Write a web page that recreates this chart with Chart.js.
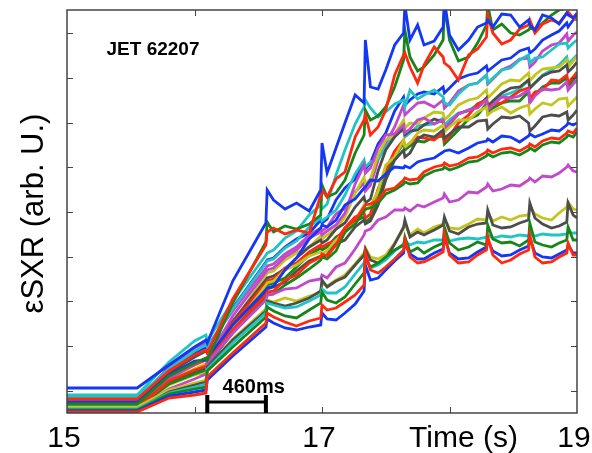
<!DOCTYPE html>
<html lang="en">
<head>
<meta charset="UTF-8">
<title>JET 62207 soft X-ray emissivity</title>
<style>
  html, body { margin: 0; padding: 0; background: #fff; }
  #wrap { width: 592px; height: 453px; }
</style>
</head>
<body>
<div id="wrap"><canvas id="sxr"></canvas></div>

<script src="https://cdn.jsdelivr.net/npm/chart.js"></script>
<script>
// sample times (s), shared by every channel
const times = [15.00, 15.55, 15.80, 16.00, 16.09, 16.10, 16.30, 16.56, 16.57, 16.62,
               16.71, 16.80, 16.90, 16.99, 17.00, 17.04, 17.11, 17.18, 17.26, 17.33,
               17.34, 17.38, 17.44, 17.50, 17.57, 17.64, 17.65, 17.69, 17.75, 17.80,
               17.88, 17.95, 17.96, 18.00, 18.07, 18.15, 18.22, 18.29, 18.30, 18.34,
               18.41, 18.48, 18.55, 18.62, 18.63, 18.67, 18.73, 18.80, 18.86, 18.92,
               18.93, 18.97, 19.00];

// core channels (top of the bundle)
const core1 = [2.5, 2.5, 4.8, 6.6, 7.3, 7.0, 13.2, 19.0, 22.3, 21.3, 20.4, 21.0, 20.2, 22.3, 27.0, 24.0, 26.5, 29.0, 31.8, 31.0, 37.3, 32.6, 32.4, 34.3, 36.8, 38.0, 40.8, 37.3, 38.8, 36.8, 37.2, 38.6, 41.3, 37.8, 36.3, 37.3, 38.6, 39.0, 39.3, 38.6, 39.9, 39.8, 38.6, 39.3, 38.8, 38.3, 39.8, 39.5, 38.9, 40.0, 39.8, 39.5, 40.0];
const core2 = [1.4, 1.4, 4.2, 5.8, 6.3, 6.0, 11.4, 16.8, 18.1, 18.5, 17.9, 18.3, 18.0, 21.8, 22.3, 21.6, 23.4, 24.1, 27.6, 29.3, 29.8, 27.8, 28.6, 30.3, 33.8, 35.8, 36.0, 34.6, 33.0, 34.8, 36.6, 35.6, 35.0, 34.6, 33.3, 35.8, 36.4, 37.6, 39.8, 38.0, 36.9, 37.3, 38.4, 38.8, 39.3, 38.0, 38.9, 39.3, 39.0, 40.0, 40.1, 39.5, 39.3];
const core3 = [0.9, 0.9, 3.7, 5.0, 5.5, 5.3, 11.0, 17.1, 19.1, 18.1, 18.7, 18.4, 18.9, 19.8, 22.8, 21.6, 22.0, 23.3, 26.0, 27.8, 30.3, 29.3, 29.7, 30.6, 32.6, 35.3, 38.3, 35.6, 34.2, 34.6, 35.8, 37.3, 40.8, 37.3, 35.2, 35.6, 37.0, 38.8, 40.8, 38.3, 38.9, 38.0, 37.8, 38.3, 38.5, 38.3, 39.0, 39.8, 40.3, 40.5, 40.5, 40.5, 40.6];

// inner channels
const inner1 = [1.3, 1.3, 4.5, 6.0, 6.6, 6.4, 10.5, 15.1, 15.3, 15.5, 16.6, 17.4, 18.0, 19.3, 19.0, 19.4, 21.3, 22.5, 23.4, 25.0, 24.4, 25.0, 26.9, 28.0, 30.2, 31.6, 30.8, 31.3, 31.9, 32.1, 31.9, 32.6, 32.0, 32.5, 33.4, 33.8, 34.0, 34.7, 34.2, 34.6, 35.3, 35.5, 36.2, 36.5, 36.0, 36.4, 37.3, 37.8, 38.2, 39.0, 38.6, 39.3, 39.8];
const inner2 = [1.2, 1.2, 4.6, 6.5, 7.0, 6.7, 10.2, 14.5, 14.7, 14.9, 15.9, 16.6, 17.8, 18.5, 18.2, 18.6, 19.9, 20.5, 22.1, 23.0, 22.2, 22.8, 25.3, 27.0, 28.6, 30.8, 29.8, 30.3, 31.0, 31.1, 30.6, 31.3, 30.5, 31.0, 32.2, 32.8, 33.0, 33.8, 32.9, 33.4, 34.3, 34.7, 35.4, 35.5, 34.6, 35.1, 36.2, 36.8, 37.0, 37.9, 37.2, 37.8, 38.1];
const inner3 = [1.8, 1.8, 5.1, 7.2, 7.8, 7.2, 11.2, 15.8, 16.0, 16.3, 17.5, 18.2, 19.8, 20.8, 20.4, 20.9, 23.8, 26.3, 28.9, 30.6, 31.3, 30.5, 29.6, 30.1, 30.9, 31.3, 30.6, 32.3, 31.4, 31.8, 32.3, 31.6, 31.0, 30.8, 31.9, 32.8, 33.0, 33.8, 33.0, 33.5, 34.3, 34.5, 35.3, 35.8, 35.0, 35.5, 35.6, 36.3, 36.9, 37.0, 36.5, 37.0, 37.3];
const inner4 = [1.6, 1.6, 4.4, 6.2, 6.8, 6.6, 10.4, 15.0, 15.2, 15.4, 16.5, 17.2, 18.6, 19.5, 19.2, 19.6, 20.3, 21.8, 23.9, 25.3, 24.6, 25.1, 25.4, 26.6, 27.8, 28.3, 27.6, 28.0, 28.7, 28.8, 28.9, 29.5, 28.8, 29.3, 30.0, 30.2, 30.9, 31.3, 30.6, 31.0, 31.7, 32.0, 32.4, 33.3, 32.5, 33.0, 33.8, 34.3, 34.8, 35.6, 34.9, 35.4, 35.8];
const inner5 = [0.7, 0.7, 3.3, 4.4, 4.9, 4.9, 9.0, 13.8, 14.0, 14.2, 15.3, 16.0, 16.6, 17.7, 17.4, 17.8, 18.4, 19.6, 22.0, 23.6, 22.9, 23.4, 25.8, 27.3, 27.9, 29.3, 28.5, 29.0, 28.9, 29.5, 30.1, 30.0, 29.3, 29.8, 30.8, 31.3, 31.5, 32.3, 31.5, 32.0, 32.9, 33.3, 33.2, 34.0, 33.2, 33.8, 34.4, 34.5, 34.6, 35.3, 34.6, 35.2, 35.6];
const inner6 = [1.0, 1.0, 4.0, 5.6, 6.2, 6.0, 9.2, 13.3, 13.5, 13.7, 14.4, 15.5, 16.6, 17.3, 17.0, 17.3, 18.4, 19.0, 20.6, 21.6, 21.0, 21.4, 24.2, 26.3, 27.6, 28.5, 27.8, 28.2, 28.3, 28.8, 29.4, 29.1, 28.4, 28.9, 29.9, 30.3, 30.6, 31.5, 30.7, 31.2, 32.0, 32.5, 32.6, 33.3, 32.5, 33.0, 33.7, 34.1, 34.2, 34.8, 34.1, 34.6, 35.1];
const inner7 = [0.9, 0.9, 3.5, 4.8, 5.3, 5.4, 9.0, 13.0, 13.2, 13.4, 14.5, 15.0, 16.1, 16.8, 16.6, 16.9, 17.3, 18.5, 19.6, 20.0, 19.5, 19.9, 22.4, 24.3, 26.2, 27.3, 26.6, 27.0, 27.6, 27.5, 27.3, 28.0, 27.2, 27.7, 29.0, 29.8, 30.9, 31.3, 30.4, 30.9, 31.0, 31.6, 32.2, 32.5, 31.4, 32.1, 32.3, 33.3, 33.2, 33.8, 33.0, 33.6, 34.1];
const inner8 = [0.7, 0.7, 3.0, 4.2, 4.6, 4.8, 8.6, 12.6, 12.8, 13.0, 13.5, 14.6, 15.8, 16.5, 16.3, 16.6, 17.6, 18.1, 19.2, 19.6, 19.1, 19.5, 21.4, 23.8, 25.6, 27.0, 26.3, 26.7, 27.2, 27.1, 27.6, 27.7, 26.9, 27.4, 28.3, 29.4, 29.8, 30.9, 30.0, 30.5, 31.0, 31.2, 31.2, 32.1, 31.1, 31.8, 32.6, 33.0, 33.0, 33.5, 32.7, 33.3, 33.8];
const inner9 = [0.8, 0.8, 3.4, 4.9, 5.4, 5.3, 9.7, 14.1, 14.3, 14.5, 15.6, 16.3, 17.5, 18.1, 17.8, 18.2, 18.8, 20.0, 22.9, 24.8, 24.0, 24.5, 26.5, 27.8, 27.9, 28.8, 28.0, 28.4, 29.3, 29.5, 28.9, 29.3, 28.5, 29.0, 29.9, 30.3, 30.5, 31.3, 30.3, 30.8, 31.6, 31.5, 31.7, 32.3, 31.0, 31.7, 32.4, 32.3, 32.4, 33.1, 32.3, 32.9, 33.3];
const inner10 = [0.6, 0.6, 2.8, 3.8, 4.1, 4.5, 8.4, 12.8, 13.0, 13.2, 14.3, 14.8, 15.7, 16.1, 15.9, 16.2, 17.3, 18.0, 19.2, 20.8, 20.3, 20.7, 22.2, 24.8, 25.6, 27.3, 26.6, 27.0, 28.0, 28.3, 28.2, 28.8, 28.1, 28.6, 29.3, 29.3, 30.1, 30.6, 29.8, 30.2, 30.6, 30.0, 30.5, 30.8, 29.9, 30.4, 31.0, 30.8, 31.4, 31.5, 30.7, 31.2, 31.6];
const inner11 = [0.6, 0.6, 3.1, 4.0, 4.4, 4.7, 8.2, 12.1, 12.4, 12.6, 13.1, 14.2, 15.2, 15.7, 15.6, 15.8, 16.9, 17.3, 18.6, 19.3, 18.9, 19.2, 20.8, 23.3, 25.3, 26.3, 25.6, 26.0, 27.4, 27.8, 27.6, 28.3, 27.5, 27.9, 28.6, 28.6, 29.2, 29.3, 28.4, 28.9, 29.6, 29.5, 29.7, 29.0, 28.2, 28.7, 29.6, 29.8, 29.7, 30.1, 29.3, 29.8, 30.3];

// mid-radius channels
const mid1 = [1.1, 1.1, 3.8, 5.2, 5.3, 5.5, 8.8, 12.3, 12.5, 12.7, 14.3, 15.5, 17.4, 18.5, 18.8, 18.6, 19.3, 20.8, 21.4, 22.5, 22.6, 23.3, 23.2, 23.9, 24.6, 24.5, 24.7, 24.5, 25.1, 25.3, 25.5, 26.1, 26.2, 26.3, 26.0, 26.5, 27.0, 27.2, 27.4, 27.1, 27.7, 27.6, 27.1, 27.7, 27.9, 27.6, 27.9, 28.3, 28.2, 28.8, 29.0, 28.8, 29.0];
const mid2 = [0.5, 0.5, 3.2, 4.3, 4.7, 5.1, 8.3, 11.8, 12.1, 12.2, 13.3, 13.8, 15.0, 15.6, 15.9, 15.7, 16.8, 18.5, 19.3, 20.6, 20.8, 20.9, 21.3, 22.3, 22.5, 23.3, 23.5, 23.3, 23.4, 24.1, 24.6, 24.8, 25.0, 24.7, 24.9, 25.5, 25.6, 26.1, 26.3, 26.0, 26.4, 26.5, 26.2, 26.7, 26.9, 26.6, 27.2, 27.5, 27.4, 28.0, 28.2, 28.0, 28.5];
const mid3 = [0.5, 0.5, 2.9, 3.9, 4.3, 4.8, 8.0, 11.5, 11.8, 11.9, 12.8, 13.5, 14.4, 15.3, 15.6, 15.4, 16.2, 18.1, 18.9, 20.2, 20.4, 20.5, 21.0, 21.9, 22.3, 22.9, 23.1, 22.9, 23.0, 23.7, 24.2, 24.4, 24.6, 24.3, 24.6, 25.1, 25.2, 25.7, 25.9, 25.6, 26.0, 26.1, 25.8, 26.3, 26.5, 26.2, 26.8, 27.1, 27.0, 27.6, 27.8, 27.6, 28.1];
const mid4 = [0.4, 0.4, 2.4, 3.4, 3.9, 5.0, 8.0, 11.3, 11.8, 11.9, 12.4, 12.5, 13.2, 13.4, 13.8, 13.5, 14.6, 15.0, 16.4, 17.8, 18.2, 18.4, 19.3, 19.6, 20.3, 20.3, 20.5, 20.2, 20.8, 20.6, 21.1, 21.5, 21.9, 21.1, 21.3, 22.1, 22.0, 22.6, 22.9, 22.2, 22.4, 22.8, 22.7, 23.3, 23.5, 23.1, 23.7, 23.6, 24.0, 24.6, 24.8, 24.2, 24.1];

// edge channels (outside the inversion radius)
const edge1 = [0.6, 0.6, 2.3, 3.0, 3.3, 4.5, 7.4, 10.4, 11.3, 11.1, 11.5, 11.2, 11.7, 12.0, 13.0, 12.7, 13.3, 13.8, 14.9, 16.0, 16.5, 15.6, 15.4, 15.8, 17.0, 18.4, 19.0, 17.8, 18.4, 18.0, 18.6, 18.9, 19.4, 18.5, 18.4, 18.9, 19.4, 19.3, 20.0, 19.2, 19.6, 19.3, 19.7, 19.8, 20.6, 19.9, 19.5, 19.3, 20.0, 20.6, 21.1, 20.4, 20.3];
const edge2 = [0.3, 0.3, 2.1, 2.8, 3.1, 4.6, 7.3, 10.2, 11.2, 11.0, 10.7, 11.0, 11.5, 12.2, 13.3, 12.6, 13.2, 13.6, 14.8, 15.8, 16.4, 15.3, 15.0, 15.4, 16.9, 18.6, 19.3, 17.6, 18.1, 17.8, 18.3, 18.8, 19.6, 18.2, 17.9, 18.6, 18.9, 19.0, 20.3, 18.8, 18.5, 18.6, 19.0, 19.3, 21.0, 19.5, 18.9, 18.5, 18.7, 19.1, 21.0, 19.8, 19.5];
const edge3 = [0.4, 0.4, 2.0, 2.6, 2.9, 4.4, 7.0, 10.0, 11.0, 10.8, 10.5, 10.6, 11.2, 11.8, 12.4, 12.0, 12.0, 12.6, 13.9, 15.0, 15.6, 14.5, 14.8, 15.3, 16.2, 16.9, 17.2, 16.8, 17.1, 17.0, 17.3, 17.3, 17.6, 17.2, 17.4, 17.5, 17.4, 17.6, 17.8, 17.5, 17.7, 17.6, 17.8, 17.7, 17.9, 17.7, 17.9, 17.8, 17.8, 17.9, 18.1, 18.0, 18.0];
const edge4 = [0.3, 0.3, 1.9, 2.4, 2.6, 4.2, 6.6, 9.6, 10.6, 10.2, 9.7, 9.5, 10.3, 11.0, 12.1, 11.3, 11.0, 11.6, 12.9, 14.0, 15.5, 14.6, 15.0, 15.6, 16.3, 16.8, 17.6, 16.1, 16.5, 16.0, 16.6, 17.0, 18.6, 17.0, 16.3, 16.6, 17.1, 16.8, 18.8, 17.4, 17.0, 17.1, 16.7, 17.3, 19.0, 17.1, 16.8, 16.6, 17.0, 17.3, 18.6, 17.3, 17.3];
const edge5 = [0.2, 0.2, 1.7, 2.1, 2.3, 3.3, 5.7, 8.6, 9.4, 9.0, 8.5, 8.3, 8.6, 8.8, 10.0, 9.4, 9.3, 10.0, 10.9, 12.2, 14.8, 13.3, 13.5, 14.3, 15.2, 16.0, 17.0, 15.9, 15.4, 15.4, 16.0, 16.4, 17.6, 16.0, 15.4, 15.5, 16.1, 16.6, 17.3, 16.2, 15.7, 15.8, 16.3, 16.7, 17.5, 16.0, 15.6, 15.5, 15.9, 16.3, 16.8, 16.0, 16.0];
const edge6 = [0.1, 0.1, 1.5, 1.8, 2.0, 3.6, 6.0, 9.0, 10.0, 9.6, 9.1, 8.7, 9.2, 9.5, 10.8, 10.3, 10.5, 11.1, 11.8, 12.8, 16.0, 14.3, 14.0, 14.6, 15.4, 16.3, 17.3, 15.6, 15.0, 15.1, 15.6, 16.1, 18.0, 15.8, 15.0, 15.1, 15.8, 16.3, 17.6, 15.8, 15.0, 15.3, 15.9, 16.3, 17.8, 15.6, 15.0, 15.1, 15.6, 16.0, 17.0, 15.8, 15.8];

// axis ticks (no numbers on the emissivity axis)
const xTicks = [16, 17, 18];
const xLabels = [15, 17, 19];
const yTicks = [2.2, 6.7, 11.2, 15.6, 20.1, 24.6, 29.0, 33.5, 38.0];

const COL = {
  b: '#1436f5', r: '#ff2a0e', g: '#16861a', c: '#1fc4c4',
  m: '#c248cc', y: '#c4c41e', k: '#4d4d4d'
};

// first entry ends up drawn on top
const channels = [
  [edge6, COL.r], [core1, COL.b], [core2, COL.r], [edge5, COL.b], [edge4, COL.g],
  [core3, COL.g], [edge3, COL.c], [edge2, COL.k], [edge1, COL.y], [mid4, COL.m],
  [mid2, COL.r], [mid3, COL.g], [mid1, COL.b], [inner11, COL.k], [inner10, COL.y],
  [inner9, COL.m], [inner7, COL.r], [inner8, COL.g], [inner6, COL.k], [inner5, COL.y],
  [inner4, COL.c], [inner3, COL.c], [inner2, COL.m], [inner1, COL.b]
];

const datasets = channels.map(([vals, colour]) => ({
  data: vals.map((v, i) => ({ x: times[i], y: v })),
  borderColor: colour,
  borderWidth: 2.8,
  pointRadius: 0,
  tension: 0,
  fill: false
}));

const FONT = '"Liberation Sans", Arial, Helvetica, sans-serif';

// frame, inward ticks, labels, shot number and the 460 ms bar
const frame = {
  id: 'frame',
  afterDraw(chart) {
    const { ctx, chartArea: a, scales: { x, y } } = chart;
    ctx.save();

    ctx.strokeStyle = '#444';
    ctx.lineWidth = 1.5;
    ctx.strokeRect(a.left, a.top, a.right - a.left, a.bottom - a.top);

    ctx.lineWidth = 1;
    ctx.beginPath();
    xTicks.forEach(t => {
      const px = Math.round(x.getPixelForValue(t)) + 0.5;
      ctx.moveTo(px, a.bottom); ctx.lineTo(px, a.bottom - 6);
      ctx.moveTo(px, a.top); ctx.lineTo(px, a.top + 6);
    });
    yTicks.forEach(v => {
      const py = Math.round(y.getPixelForValue(v)) + 0.5;
      ctx.moveTo(a.left, py); ctx.lineTo(a.left + 6, py);
      ctx.moveTo(a.right, py); ctx.lineTo(a.right - 6, py);
    });
    ctx.stroke();

    ctx.fillStyle = '#000';
    ctx.font = '30px ' + FONT;
    ctx.textAlign = 'center';
    ctx.textBaseline = 'alphabetic';
    xLabels.forEach(t => ctx.fillText(String(t), x.getPixelForValue(t) - 3, a.bottom + 34));
    ctx.fillText('Time (s)', x.getPixelForValue(18.11), a.bottom + 34);

    ctx.save();
    ctx.translate(43, (a.top + a.bottom) / 2 + 2);
    ctx.rotate(-Math.PI / 2);
    ctx.font = '31px ' + FONT;
    ctx.fillText('\u03b5SXR (arb. U.)', 0, 0);
    ctx.restore();

    ctx.font = 'bold 19px ' + FONT;
    ctx.textAlign = 'left';
    ctx.fillText('JET 62207', x.getPixelForValue(15.31), y.getPixelForValue(35.8));

    // 460 ms scale bar
    const x0 = x.getPixelForValue(16.10), x1 = x.getPixelForValue(16.56);
    const yb = y.getPixelForValue(1.1);
    ctx.strokeStyle = '#000';
    ctx.lineWidth = 3;
    ctx.beginPath();
    ctx.moveTo(x0, yb); ctx.lineTo(x1, yb);
    ctx.stroke();
    ctx.lineWidth = 4;
    ctx.beginPath();
    ctx.moveTo(x0, y.getPixelForValue(1.8)); ctx.lineTo(x0, a.bottom);
    ctx.moveTo(x1, y.getPixelForValue(1.8)); ctx.lineTo(x1, a.bottom);
    ctx.stroke();
    ctx.font = 'bold 20px ' + FONT;
    ctx.fillText('460ms', x.getPixelForValue(16.22), y.getPixelForValue(2.0));

    ctx.restore();
  }
};

new Chart(document.getElementById('sxr').getContext('2d'), {
  type: 'line',
  data: { datasets },
  options: {
    responsive: true,
    maintainAspectRatio: false,
    animation: false,
    layout: { padding: { left: 67, right: 15, top: 10, bottom: 40 } },
    plugins: { legend: { display: false }, tooltip: { enabled: false } },
    scales: {
      x: { type: 'linear', min: 15, max: 19, display: false },
      y: { type: 'linear', min: 0, max: 40.3, display: false }
    }
  },
  plugins: [frame]
});
</script>
</body>
</html>
